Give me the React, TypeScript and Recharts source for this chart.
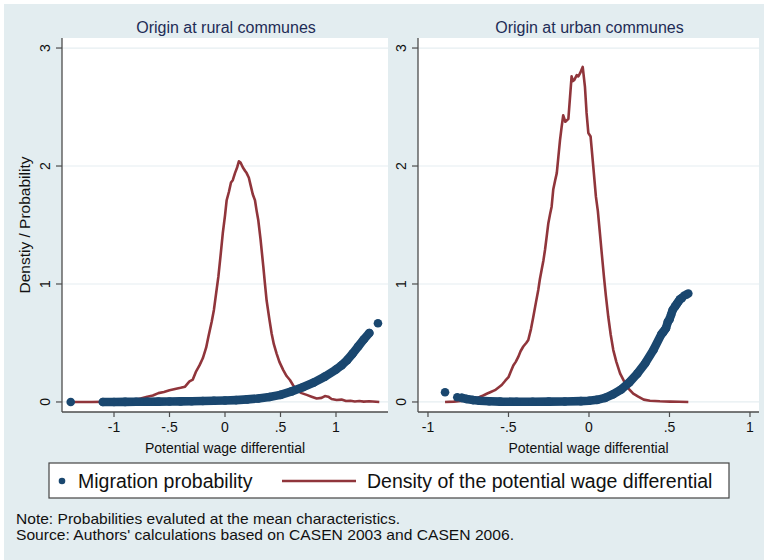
import React from 'react';
import {
  ComposedChart,
  Scatter,
  Line,
  XAxis,
  YAxis,
  CartesianGrid,
} from 'recharts';

// ---------- Data ----------
const panelTitles = ['Origin at rural communes', 'Origin at urban communes'];
const xAxisTitle = 'Potential wage differential';
const yAxisTitle = 'Denstiy / Probability';
const legendLabels = ['Migration probability', 'Density of the potential wage differential'];
const noteLines = [
  'Note: Probabilities evaluted at the mean characteristics.',
  "Source: Authors' calculations based on CASEN 2003 and CASEN 2006.",
];
const noteWidths = [384, 498];
const xTicks = [-1, -0.5, 0, 0.5, 1];
const yTicks = [0, 1, 2, 3];

// Kernel density of the potential wage differential, rural origin [x, density]
const ruralDensity: [number, number][] = [
  [-1.39, 0.0], [-1.2, 0.0], [-1.0, 0.003], [-0.9, 0.008], [-0.82, 0.017],
  [-0.76, 0.03], [-0.7, 0.045], [-0.65, 0.055], [-0.6, 0.075], [-0.55, 0.085],
  [-0.5, 0.1], [-0.45, 0.11], [-0.4, 0.12], [-0.36, 0.13], [-0.32, 0.175],
  [-0.29, 0.19], [-0.26, 0.26], [-0.23, 0.31], [-0.2, 0.37], [-0.17, 0.46],
  [-0.15, 0.55], [-0.12, 0.68], [-0.1, 0.78], [-0.08, 0.92], [-0.06, 1.06],
  [-0.04, 1.24], [-0.02, 1.43], [0.0, 1.58], [0.015, 1.71], [0.035, 1.78],
  [0.054, 1.86], [0.07, 1.88], [0.09, 1.94], [0.11, 1.99], [0.125, 2.04],
  [0.14, 2.03], [0.16, 1.99], [0.18, 1.96], [0.195, 1.94], [0.215, 1.9],
  [0.23, 1.84], [0.25, 1.76], [0.27, 1.71], [0.285, 1.62], [0.3, 1.54],
  [0.32, 1.38], [0.345, 1.15], [0.36, 1.0], [0.375, 0.86], [0.4, 0.7],
  [0.42, 0.58], [0.44, 0.49], [0.465, 0.41], [0.49, 0.34], [0.525, 0.27],
  [0.555, 0.22], [0.585, 0.186], [0.615, 0.14], [0.645, 0.1], [0.69, 0.075],
  [0.736, 0.06], [0.78, 0.045], [0.826, 0.03], [0.87, 0.035], [0.9, 0.05],
  [0.93, 0.045], [0.96, 0.025], [1.006, 0.017], [1.05, 0.02], [1.09, 0.008],
  [1.13, 0.01], [1.17, 0.004], [1.21, 0.008], [1.25, 0.003], [1.3, 0.006],
  [1.39, 0.0],
];

// Migration probability, rural origin: dense band and isolated points [x, prob]
const ruralProbBand: [number, number][] = [
  [-1.1, 0.0], [-1.0, 0.0], [-0.9, 0.001], [-0.8, 0.002], [-0.7, 0.002],
  [-0.6, 0.003], [-0.5, 0.004], [-0.4, 0.005], [-0.3, 0.006], [-0.2, 0.008],
  [-0.1, 0.01], [0.0, 0.012], [0.1, 0.016], [0.2, 0.022], [0.3, 0.03],
  [0.4, 0.042], [0.5, 0.06], [0.6, 0.09], [0.7, 0.125], [0.8, 0.165],
  [0.9, 0.215], [1.0, 0.275], [1.05, 0.31], [1.1, 0.355], [1.15, 0.41],
  [1.2, 0.47], [1.25, 0.53], [1.3, 0.585],
];
const ruralProbSparse: [number, number][] = [
  [-1.39, 0.0], [1.378, 0.667],
];

// Kernel density, urban origin [x, density]
const urbanDensity: [number, number][] = [
  [-0.894, 0.0], [-0.84, 0.003], [-0.78, 0.01], [-0.74, 0.02], [-0.7, 0.03],
  [-0.665, 0.05], [-0.635, 0.07], [-0.61, 0.085], [-0.584, 0.1], [-0.56, 0.125],
  [-0.542, 0.144], [-0.52, 0.18], [-0.5, 0.21], [-0.485, 0.26], [-0.47, 0.31],
  [-0.455, 0.34], [-0.44, 0.38], [-0.425, 0.43], [-0.408, 0.47], [-0.39, 0.5],
  [-0.377, 0.525], [-0.36, 0.62], [-0.346, 0.72], [-0.33, 0.84], [-0.315, 0.95],
  [-0.305, 1.04], [-0.294, 1.12], [-0.283, 1.2], [-0.273, 1.29], [-0.263, 1.4],
  [-0.253, 1.51], [-0.242, 1.59], [-0.232, 1.655], [-0.222, 1.8], [-0.21, 1.88],
  [-0.2, 1.94], [-0.19, 2.08], [-0.18, 2.22], [-0.17, 2.33], [-0.16, 2.43],
  [-0.147, 2.375], [-0.128, 2.4], [-0.118, 2.58], [-0.108, 2.76], [-0.1, 2.72],
  [-0.091, 2.73], [-0.076, 2.77], [-0.066, 2.76], [-0.056, 2.785], [-0.039, 2.84],
  [-0.025, 2.67], [-0.015, 2.45], [-0.004, 2.28], [0.01, 2.25], [0.027, 1.99],
  [0.043, 1.74], [0.055, 1.62], [0.068, 1.43], [0.08, 1.25], [0.093, 1.06],
  [0.105, 0.9], [0.12, 0.72], [0.135, 0.57], [0.151, 0.44], [0.17, 0.34],
  [0.193, 0.243], [0.22, 0.17], [0.244, 0.116], [0.275, 0.07], [0.306, 0.045],
  [0.34, 0.02], [0.379, 0.011], [0.44, 0.006], [0.503, 0.003], [0.56, 0.002],
  [0.617, 0.0],
];

// Migration probability, urban origin [x, prob]
const urbanProbBand: [number, number][] = [
  [-0.79, 0.035], [-0.76, 0.025], [-0.72, 0.016], [-0.68, 0.01], [-0.62, 0.006],
  [-0.55, 0.003], [-0.45, 0.002], [-0.35, 0.002], [-0.25, 0.003], [-0.15, 0.004],
  [-0.05, 0.007], [0.0, 0.01], [0.05, 0.018], [0.1, 0.035], [0.15, 0.065],
  [0.2, 0.105], [0.25, 0.165], [0.3, 0.24], [0.35, 0.33], [0.4, 0.44],
  [0.45, 0.575], [0.46, 0.59], [0.47, 0.61], [0.478, 0.625], [0.49, 0.68],
  [0.5, 0.7], [0.51, 0.74], [0.52, 0.78], [0.535, 0.81], [0.545, 0.83],
  [0.555, 0.85], [0.565, 0.87], [0.576, 0.88],
];
const urbanProbSparse: [number, number][] = [
  [-0.894, 0.082], [-0.818, 0.04], [0.59, 0.9], [0.605, 0.91], [0.617, 0.92],
];

// ---------- Styles ----------
const FONT = '"Liberation Sans", Arial, Helvetica, sans-serif';
const BG = '#e3edf0';
const NAVY = '#1a476f';
const MAROON = '#90353b';
const AXIS = '#4d4d4d';
const TEXT = '#111';
const TITLE = '#1e2c56';

const toPts = (arr: [number, number][]) => arr.map(([x, y]) => ({ x, y }));

const fmtX = (v: number) => {
  if (v === 0) return '0';
  const s = String(Math.abs(v)).replace(/^0/, '');
  return (v < 0 ? '-' : '') + s;
};

const YTick = (props: any) => {
  const { x, y, payload } = props;
  return (
    <text
      transform={`translate(${x - 6},${y}) rotate(-90)`}
      textAnchor="middle"
      fontSize={14}
      fontFamily={FONT}
      fill={TEXT}
    >
      {payload.value}
    </text>
  );
};

const Dot = (props: any) => {
  const { cx, cy } = props;
  if (cx == null || cy == null) return null;
  return <circle cx={cx} cy={cy} r={4.3} fill={NAVY} />;
};

type PanelProps = {
  title: string;
  density: [number, number][];
  band: [number, number][];
  sparse: [number, number][];
  xDomain: [number, number];
  width: number;
  left: number;
  yAxisWidth: number;
  marginRight: number;
  showYTitle: boolean;
};

const Panel = ({ title, density, band, sparse, xDomain, width, left, yAxisWidth, marginRight, showYTitle }: PanelProps) => {
  const plotLeft = 2 + yAxisWidth;
  const plotRight = width - marginRight;
  const titleCenter = (plotLeft + plotRight) / 2 + 1;
  return (
    <div style={{ position: 'absolute', left, top: 0, width, height: 460 }}>
      <div
        style={{
          position: 'absolute',
          left: titleCenter - 150,
          width: 300,
          top: 18,
          lineHeight: '20px',
          textAlign: 'center',
          fontFamily: FONT,
          fontSize: 16,
          color: TITLE,
        }}
      >
        {title}
      </div>
      <ComposedChart
        width={width}
        height={460}
        margin={{ top: 38, right: marginRight, bottom: 8, left: 2 }}
      >
        <CartesianGrid
          horizontal
          vertical={false}
          fill="#ffffff"
          stroke="#e6eef1"
          strokeWidth={1.2}
          horizontalValues={yTicks}
        />
        <XAxis
          type="number"
          dataKey="x"
          domain={xDomain}
          allowDataOverflow
          ticks={xTicks}
          tickFormatter={fmtX}
          height={40}
          tickSize={5}
          tickMargin={5}
          stroke={AXIS}
          axisLine={{ stroke: AXIS, strokeWidth: 1.3 }}
          tickLine={{ stroke: AXIS, strokeWidth: 1.2 }}
          tick={{ fill: TEXT, fontSize: 14, fontFamily: FONT }}
          label={{
            content: (p: any) => {
              const vb = p.viewBox || {};
              return (
                <text
                  x={vb.x + vb.width / 2}
                  y={vb.y + 41}
                  textAnchor="middle"
                  fontSize={14}
                  fontFamily={FONT}
                  fill={TEXT}
                >
                  {xAxisTitle}
                </text>
              );
            },
          }}
        />
        <YAxis
          type="number"
          dataKey="y"
          domain={[-0.085, 3.085]}
          allowDataOverflow
          ticks={yTicks}
          width={yAxisWidth}
          tickSize={6}
          tickMargin={0}
          axisLine={{ stroke: AXIS, strokeWidth: 1.3 }}
          tickLine={{ stroke: AXIS, strokeWidth: 1.2 }}
          tick={<YTick />}
          label={
            showYTitle
              ? {
                  content: (p: any) => {
                    const vb = p.viewBox || {};
                    const cx = vb.x + 27.5;
                    const cy = vb.y + vb.height / 2;
                    return (
                      <text
                        transform={`translate(${cx},${cy}) rotate(-90)`}
                        textAnchor="middle"
                        fontSize={15.5}
                        fontFamily={FONT}
                        fill={TEXT}
                      >
                        {yAxisTitle}
                      </text>
                    );
                  },
                }
              : undefined
          }
        />
        <Scatter
          data={toPts(band)}
          dataKey="y"
          fill={NAVY}
          shape={<Dot />}
          line={{ stroke: NAVY, strokeWidth: 8.6, strokeLinecap: 'round', strokeLinejoin: 'round' }}
          isAnimationActive={false}
        />
        <Scatter
          data={toPts(sparse)}
          dataKey="y"
          fill={NAVY}
          shape={<Dot />}
          isAnimationActive={false}
        />
        <Line
          data={toPts(density)}
          dataKey="y"
          type="linear"
          stroke={MAROON}
          strokeWidth={2.6}
          strokeLinejoin="round"
          dot={false}
          activeDot={false}
          isAnimationActive={false}
        />
      </ComposedChart>
    </div>
  );
};

const Legend = () => (
  <svg
    width={682}
    height={37}
    style={{ position: 'absolute', left: 48, top: 462 }}
  >
    <rect x={1} y={1} width={680} height={35} fill="#fff" stroke="#444" strokeWidth={1.2} />
    <circle cx={14} cy={19} r={3.3} fill={NAVY} />
    <text x={30} y={26} fontSize={19.5} fontFamily={FONT} fill={TEXT}>
      {legendLabels[0]}
    </text>
    <line x1={234} y1={19} x2={308} y2={19} stroke={MAROON} strokeWidth={2.4} />
    <text x={319} y={26} fontSize={19.5} fontFamily={FONT} fill={TEXT}>
      {legendLabels[1]}
    </text>
  </svg>
);

const Notes = () => (
  <svg width={600} height={44} style={{ position: 'absolute', left: 0, top: 505 }}>
    {noteLines.map((t, i) => (
      <text
        key={i}
        x={16}
        y={18.5 + i * 16}
        fontSize={15}
        fontFamily={FONT}
        fill={TEXT}
        textLength={noteWidths[i]}
        lengthAdjust="spacingAndGlyphs"
      >
        {t}
      </text>
    ))}
  </svg>
);

export default function App() {
  return (
    <div
      style={{
        position: 'absolute',
        left: 0,
        top: 0,
        width: 764,
        height: 560,
        background: '#ffffff',
        overflow: 'hidden',
      }}
    >
      <div style={{ position: 'absolute', left: 4, top: 4, width: 760, height: 556, background: BG }} />
      <Panel
        title={panelTitles[0]}
        density={ruralDensity}
        band={ruralProbBand}
        sparse={ruralProbSparse}
        xDomain={[-1.4685, 1.4685]}
        width={390}
        left={0}
        yAxisWidth={60}
        marginRight={2}
        showYTitle
      />
      <Panel
        title={panelTitles[1]}
        density={urbanDensity}
        band={urbanProbBand}
        sparse={urbanProbSparse}
        xDomain={[-1.062, 1.056]}
        width={374}
        left={390}
        yAxisWidth={26}
        marginRight={5}
        showYTitle={false}
      />
      <Legend />
      <Notes />
    </div>
  );
}
